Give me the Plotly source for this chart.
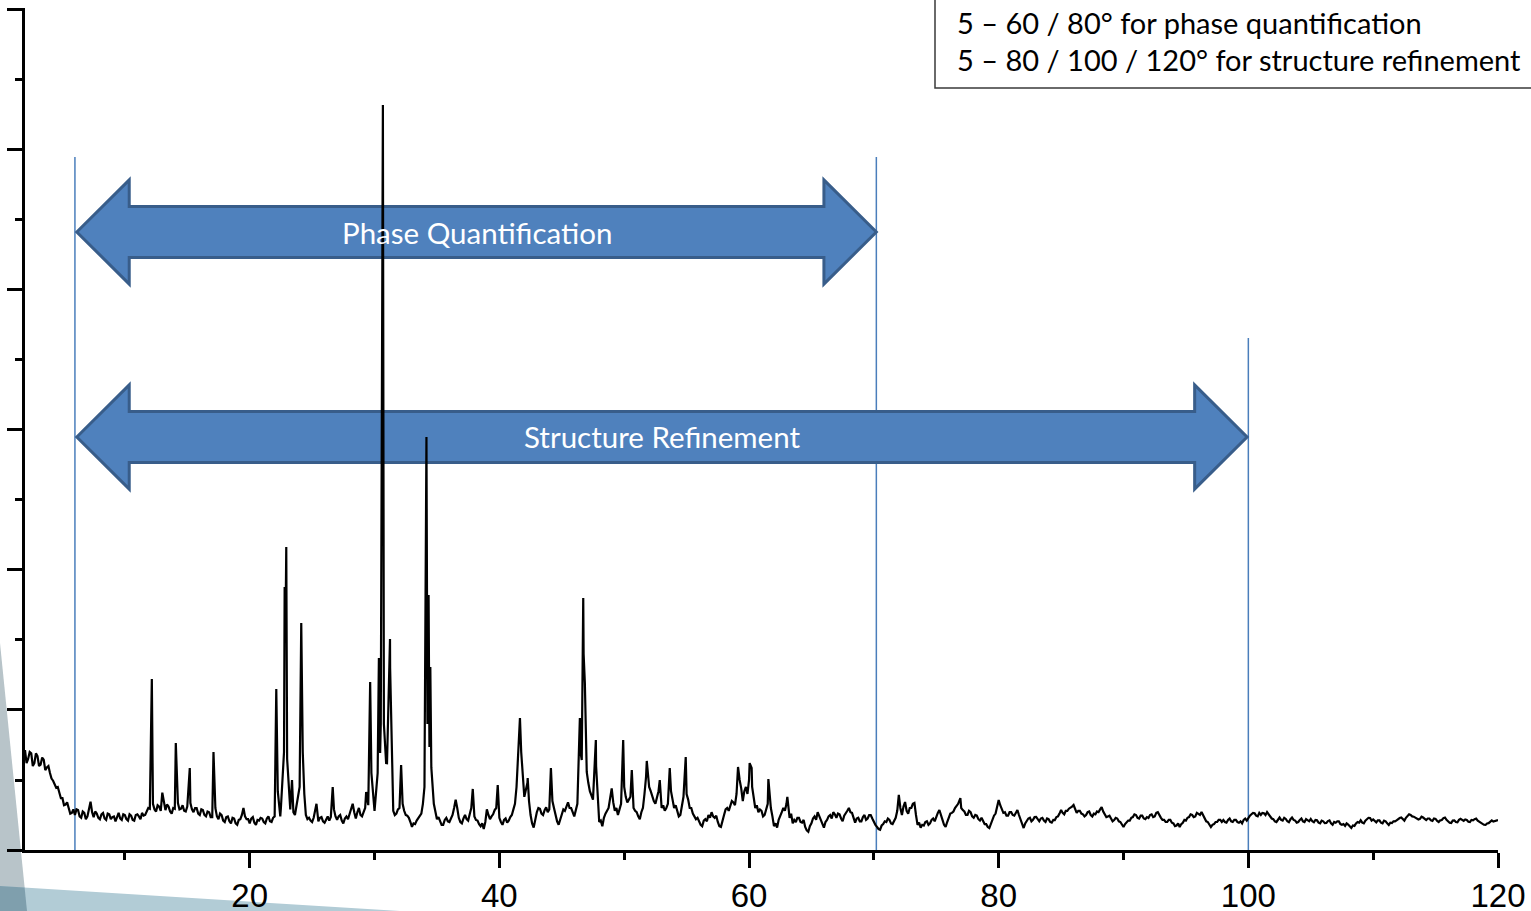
import numpy as np
import plotly.graph_objects as go

# ---------------- data ----------------
# XRD scan: background read on a 0.25 deg grid (2..120 deg), counts (arb.)
scan_start = 2.0
scan_step = 0.25
background_counts = [
    714, 650, 690, 620,   # 2
    670, 610, 645, 590,   # 3
    550, 495, 445, 410,   # 4
    370, 325, 300, 265,   # 5
    250, 285, 230, 265,   # 6
    240, 345, 235, 260,   # 7
    220, 265, 215, 255,   # 8
    235, 205, 265, 215,   # 9
    250, 210, 245, 210,   # 10
    255, 220, 245, 275,   # 11
    295, 330, 275, 310,   # 12
    410, 285, 310, 260,   # 13
    295, 335, 295, 280,   # 14
    310, 335, 270, 300,   # 15
    250, 285, 240, 270,   # 16
    235, 300, 220, 250,   # 17
    200, 240, 190, 225,   # 18
    180, 220, 300, 220,   # 19
    190, 235, 180, 210,   # 20
    225, 190, 240, 200,   # 21
    240, 420, 300, 700,   # 22
    650, 290, 270, 320,   # 23
    450, 700, 250, 230,   # 24
    200, 300, 205, 235,   # 25
    195, 240, 235, 290,   # 26
    215, 250, 190, 240,   # 27
    255, 330, 225, 300,   # 28
    240, 300, 320, 550,   # 29
    280, 550, 900, 900,   # 30
    620, 1300, 280, 260,  # 31
    300, 330, 250, 230,   # 32
    165, 185, 225, 260,   # 33
    450, 1000, 900, 330,  # 34
    220, 200, 180, 230,   # 35
    200, 250, 360, 230,   # 36
    190, 250, 210, 300,   # 37
    240, 210, 170, 150,   # 38
    290, 220, 255, 300,   # 39
    230, 180, 225, 210,   # 40
    250, 330, 720, 700,   # 41
    380, 480, 250, 160,   # 42
    270, 295, 250, 305,   # 43
    290, 350, 250, 180,   # 44
    250, 280, 340, 300,   # 45
    240, 330, 700, 1400,  # 46
    557, 420, 360, 600,   # 47
    200, 170, 260, 300,   # 48
    440, 280, 250, 330,   # 49
    450, 340, 380, 300,   # 50
    270, 220, 300, 520,   # 51
    450, 380, 330, 420,   # 52
    300, 280, 330, 420,   # 53
    300, 280, 250, 380,   # 54
    400, 300, 260, 220,   # 55
    200, 170, 220, 250,   # 56
    270, 230, 200, 165,   # 57
    250, 300, 320, 340,   # 58
    400, 500, 350, 450,   # 59
    500, 450, 300, 270,   # 60
    280, 250, 330, 300,   # 61
    170, 160, 250, 300,   # 62
    330, 230, 190, 200,   # 63
    230, 195, 165, 130,   # 64
    190, 240, 270, 210,   # 65
    160, 215, 250, 270,   # 66
    230, 255, 205, 260,   # 67
    300, 265, 195, 230,   # 68
    205, 250, 225, 250,   # 69
    200, 165, 145, 185,   # 70
    200, 215, 185, 230,   # 71
    393, 250, 343, 260,   # 72
    300, 336, 180, 160,   # 73
    175, 205, 190, 225,   # 74
    240, 286, 215, 165,   # 75
    236, 265, 300, 330,   # 76
    300, 275, 250, 271,   # 77
    230, 245, 210, 200,   # 78
    185, 157, 215, 260,   # 79
    357, 295, 270, 245,   # 80
    270, 245, 286, 220,   # 81
    157, 205, 230, 215,   # 82
    236, 205, 230, 200,   # 83
    220, 195, 214, 240,   # 84
    286, 255, 280, 300,   # 85
    321, 265, 280, 255,   # 86
    250, 275, 240, 255,   # 87
    270, 307, 255, 240,   # 88
    225, 214, 225, 200,   # 89
    164, 195, 210, 235,   # 90
    250, 225, 245, 220,   # 91
    229, 255, 240, 270,   # 92
    230, 215, 200, 215,   # 93
    190, 175, 164, 195,   # 94
    210, 235, 250, 240,   # 95
    260, 271, 225, 200,   # 96
    164, 185, 200, 215,   # 97
    214, 195, 225, 200,   # 98
    215, 195, 190, 225,   # 99
    229, 255, 262, 240,   # 100
    250, 262, 271, 245,   # 101
    220, 200, 232, 210,   # 102
    222, 198, 232, 210,   # 103
    200, 225, 200, 214,   # 104
    222, 198, 212, 190,   # 105
    205, 193, 212, 180,   # 106
    195, 205, 180, 172,   # 107
    182, 157, 172, 200,   # 108
    212, 190, 220, 229,   # 109
    218, 198, 212, 190,   # 110
    205, 179, 192, 205,   # 111
    222, 232, 210, 242,   # 112
    250, 238, 228, 222,   # 113
    232, 214, 225, 208,   # 114
    222, 200, 214, 232,   # 115
    205, 193, 212, 198,   # 116
    222, 208, 214, 200,   # 117
    212, 225, 202, 190,   # 118
    179, 192, 212, 205,   # 119
    214,                  # 120
]

# noise readings half-way between the grid points (None = inside a reflection)
midpoint_counts = [
    620, 700, 600, 690,   # 2
    600, 660, 570, 600,   # 3
    510, 470, 450, 370,   # 4
    320, 340, 260, 290,   # 5
    290, 240, 275, 220,   # 6
    290, 270, 275, 230,   # 7
    255, 225, 260, 220,   # 8
    240, 235, 225, 255,   # 9
    220, 255, 215, 250,   # 10
    240, 265, 250, 300,   # 11
    None, 290, 320, 280,  # 12
    330, 325, 275, 300,   # 13
    None, 290, 320, 275,  # 14
    None, 290, 300, 260,  # 15
    290, 250, 275, 235,   # 16
    None, 240, 260, 210,  # 17
    235, 205, 230, 190,   # 18
    215, 250, 240, 220,   # 19
    225, 195, 215, 230,   # 20
    200, 225, 205, 230,   # 21
    None, None, None, None,   # 22
    None, None, 250, 380,     # 23
    None, 400, 220, 210,      # 24
    230, None, 230, 205,      # 25
    225, 210, None, 240,      # 26
    240, 210, 225, 220,       # 27
    280, 270, 270, 250,       # 28
    270, None, None, None,    # 29
    None, None, None, None,   # 30
    None, None, 250, 290,     # 31
    None, 280, 245, 200,      # 32
    190, 210, 245, 330,       # 33
    None, None, None, None,   # 34
    235, 180, 215, 205,       # 35
    230, 300, 300, 200,       # 36
    225, 220, 255, None,      # 37
    215, 185, 190, 200,       # 38
    250, 240, 285, None,      # 39
    200, 215, 195, 235,       # 40
    290, 450, None, None,     # 41
    430, 350, 190, 230,       # 42
    300, 260, 285, 270,       # 43
    None, 300, 205, 220,      # 44
    290, 310, 300, 270,       # 45
    None, None, None, None,   # 46
    480, 390, None, None,     # 47
    210, 230, 280, 370,       # 48
    340, 300, 290, None,      # 49
    380, 360, None, 280,      # 50
    240, 270, 400, None,      # 51
    420, 350, 380, None,      # 52
    320, 300, None, 360,      # 53
    320, 240, 320, None,      # 54
    360, 300, 240, 230,       # 55
    180, 210, 205, 230,       # 56
    240, 245, 170, 215,       # 57
    290, 280, 350, 320,       # 58
    None, 440, 420, 400,      # 59
    None, None, 320, 290,     # 60
    240, 300, None, 240,      # 61
    190, 215, 270, 280,       # 62
    None, 260, 215, 230,      # 63
    200, 215, 140, 170,       # 64
    225, 215, 245, 185,       # 65
    200, 240, 225, 255,       # 66
    260, 225, 245, 280,       # 67
    270, 230, 225, 205,       # 68
    235, 215, 250, 225,       # 69
    180, 150, 175, 205,       # 70
    225, 190, 215, 280,       # 71
    300, 310, 280, 300,       # 72
    330, 250, 195, 180,       # 73
    200, 180, 215, 205,       # 74
    265, 240, 180, 200,       # 75
    260, 275, 315, None,      # 76
    285, 250, 280, 240,       # 77
    250, 220, 230, 185,       # 78
    165, 190, 245, 300,       # 79
    320, 265, 245, 270,       # 80
    250, 270, 250, 190,       # 81
    190, 225, 205, 235,       # 82
    215, 225, 210, 225,       # 83
    200, 215, 235, 260,       # 84
    265, 280, 295, 310,       # 85
    285, 280, 260, 240,       # 86
    270, 250, 260, 275,       # 87
    290, 275, 235, 245,       # 88
    205, 230, 205, 180,       # 89
    185, 210, 230, 255,       # 90
    230, 245, 225, 235,       # 91
    250, 235, 265, 245,       # 92
    215, 200, 215, 195,       # 93
    170, 190, 185, 215,       # 94
    230, 255, 235, 265,       # 95
    250, 245, 205, 180,       # 96
    180, 200, 215, 200,       # 97
    200, 215, 205, 215,       # 98
    200, 205, 215, 210,       # 99
    245, 265, 245, 265,       # 100
    265, 250, 255, 225,       # 101
    205, 220, 215, 230,       # 102
    205, 220, 215, 195,       # 103
    215, 205, 220, 205,       # 104
    205, 215, 195, 210,       # 105
    192, 207, 190, 200,       # 106
    205, 185, 185, 190,       # 107
    168, 175, 190, 195,       # 108
    195, 210, 230, 210,       # 109
    205, 212, 195, 210,       # 110
    190, 195, 205, 212,       # 111
    228, 218, 230, 255,       # 112
    240, 232, 218, 238,       # 113
    220, 225, 212, 225,       # 114
    208, 212, 228, 215,       # 115
    195, 210, 200, 215,       # 116
    212, 218, 202, 215,       # 117
    220, 210, 192, 180,       # 118
    190, 205, 203, 212,       # 119
]

# sharp reflections (peak tops and the dips between close peaks)
peak_two_theta = [12.16, 14.08, 15.2, 17.1,
                  22.13, 22.45, 22.8, 22.86, 22.93, 23.1, 23.39,
                  24.13, 24.2, 25.35, 26.65, 29.33, 29.65,
                  30.35, 30.45, 30.67, 30.93, 31.24, 31.32, 32.13,
                  34.16, 34.24, 34.33, 34.4, 34.47, 34.55,
                  37.87, 39.87, 41.65, 42.27, 44.13,
                  46.45, 46.6, 46.72, 46.85, 46.93, 47.73,
                  49.92, 50.61, 51.81, 52.85, 53.65, 54.93,
                  59.12, 60.05, 60.21, 61.55, 63.07, 76.93]
peak_counts = [1221, 764, 586, 700,
               1150, 240, 1879, 1500, 2164, 500, 500,
               1621, 929, 330, 450, 414, 1200,
               1371, 693, 5321, 621, 1507, 950, 607,
               2950, 900, 1821, 736, 1307, 590,
               436, 464, 943, 514, 586,
               943, 643, 1800, 1193, 836, 786,
               786, 571, 636, 500, 586, 664,
               593, 621, 586, 507, 379, 371]

# measurement ranges (deg 2theta)
range_limits = [6.0, 70.2, 100.0]
range_line_tops = [4950, 4950, 3657]

arrow_labels = ["Phase Quantification", "Structure Refinement"]
arrow_start = [6.15, 6.15]
arrow_end = [70.2, 99.9]
arrow_center = [4414, 2950]

note_lines = ["5 \u2013 60 / 80\u00b0 for phase quantification",
              "5 \u2013 80 / 100 / 120\u00b0 for structure refinement"]

x_ticks = [20, 40, 60, 80, 100, 120]

# ---------------- build trace ----------------
grid_x = [round(scan_start + scan_step * i, 3) for i in range(len(background_counts))]
mid_x = [round(scan_start + scan_step * (i + 0.5), 3) for i in range(len(midpoint_counts))]
pts = list(zip(grid_x, background_counts))
pts += [(a, b) for a, b in zip(mid_x, midpoint_counts) if b is not None]
pts += list(zip(peak_two_theta, peak_counts))
pts.sort()
xs = [p[0] for p in pts]
ys = [p[1] for p in pts]

fig = go.Figure()
fig.add_trace(go.Scatter(x=xs, y=ys, mode="lines",
                         line=dict(color="black", width=2.2),
                         hoverinfo="skip"))

# ---------------- geometry helpers ----------------
L, R, T, B = 25, 33, 8, 61
W, H = 1531, 911
PW, PH = W - L - R, H - T - B


def px(x):
    return (x - L) / PW


def py(y):
    return (H - B - y) / PH


shapes = []


def poly(points, color):
    d = "M " + " L ".join(f"{px(a):.5f},{py(b):.5f}" for a, b in points) + " Z"
    return dict(type="path", xref="paper", yref="paper", path=d,
                fillcolor=color, line=dict(width=0), layer="below")


# slide decoration (bottom left)
shapes.append(poly([(0, 643), (27, 911), (0, 911)], "#B8C4C9"))
shapes.append(poly([(0, 886), (400, 911), (0, 911)], "#B2CCD6"))
shapes.append(poly([(0, 886), (24.6, 887.5), (27, 911), (0, 911)], "#7F9FAD"))

# vertical range lines
for xv, top in zip(range_limits, range_line_tops):
    shapes.append(dict(type="line", xref="x", yref="y", x0=xv, x1=xv, y0=0, y1=top,
                       line=dict(color="#4A7EBB", width=1.5), layer="below"))

# double-headed block arrows
head_len = 4.2      # deg
head_half = 372     # counts
shaft_half = 182    # counts
for xs0, xe0, yc in zip(arrow_start, arrow_end, arrow_center):
    xb, xrb = xs0 + head_len, xe0 - head_len
    p = [(xs0, yc), (xb, yc + head_half), (xb, yc + shaft_half), (xrb, yc + shaft_half),
         (xrb, yc + head_half), (xe0, yc), (xrb, yc - head_half), (xrb, yc - shaft_half),
         (xb, yc - shaft_half), (xb, yc - head_half)]
    d = "M " + " L ".join(f"{a},{b}" for a, b in p) + " Z"
    shapes.append(dict(type="path", xref="x", yref="y", path=d,
                       fillcolor="#4F81BD", line=dict(color="#385D8A", width=3),
                       layer="below"))

# note box (top right)
shapes.append(dict(type="rect", xref="paper", yref="paper",
                   x0=px(935), x1=px(1533), y0=py(88), y1=py(-2),
                   fillcolor="white", line=dict(color="#3A3A3A", width=1.5), layer="above"))

annotations = []
for lab, xs0, xe0, yc in zip(arrow_labels, arrow_start, arrow_end, arrow_center):
    annotations.append(dict(x=(xs0 + xe0) / 2, y=yc, xref="x", yref="y", text=lab,
                            showarrow=False, font=dict(family="Lato", size=29.5, color="white"),
                            xanchor="center", yanchor="middle"))

for line, ypix in zip(note_lines, [22, 60]):
    annotations.append(dict(x=px(955), y=py(ypix), xref="paper", yref="paper", text=line,
                            showarrow=False, font=dict(family="Lato", size=29, color="black"),
                            xanchor="left", yanchor="middle"))

axis_common = dict(showline=True, linecolor="black", linewidth=2.5, ticks="outside",
                   ticklen=15, tickwidth=2.5, tickcolor="black", showgrid=False,
                   zeroline=False, mirror=False)

fig.update_layout(
    width=W, height=H,
    margin=dict(l=L, r=R, t=T, b=B, autoexpand=False),
    plot_bgcolor="white", paper_bgcolor="white",
    showlegend=False,
    shapes=shapes, annotations=annotations,
    xaxis=dict(range=[2, 120], tickvals=x_ticks, ticktext=[str(v) for v in x_ticks],
               tickfont=dict(family="Liberation Sans", size=33, color="black"),
               minor=dict(dtick=10, tick0=0, ticks="outside", ticklen=7, tickwidth=2.5,
                          tickcolor="black", showgrid=False),
               **axis_common),
    yaxis=dict(range=[0, 6014], dtick=1000, tick0=0, showticklabels=False,
               minor=dict(dtick=500, tick0=0, ticks="outside", ticklen=7, tickwidth=2.5,
                          tickcolor="black", showgrid=False),
               **axis_common),
)

fig.write_html("out.html", config={"displayModeBar": False},
               post_script="document.body.style.margin='0px';document.body.style.overflow='hidden';")
